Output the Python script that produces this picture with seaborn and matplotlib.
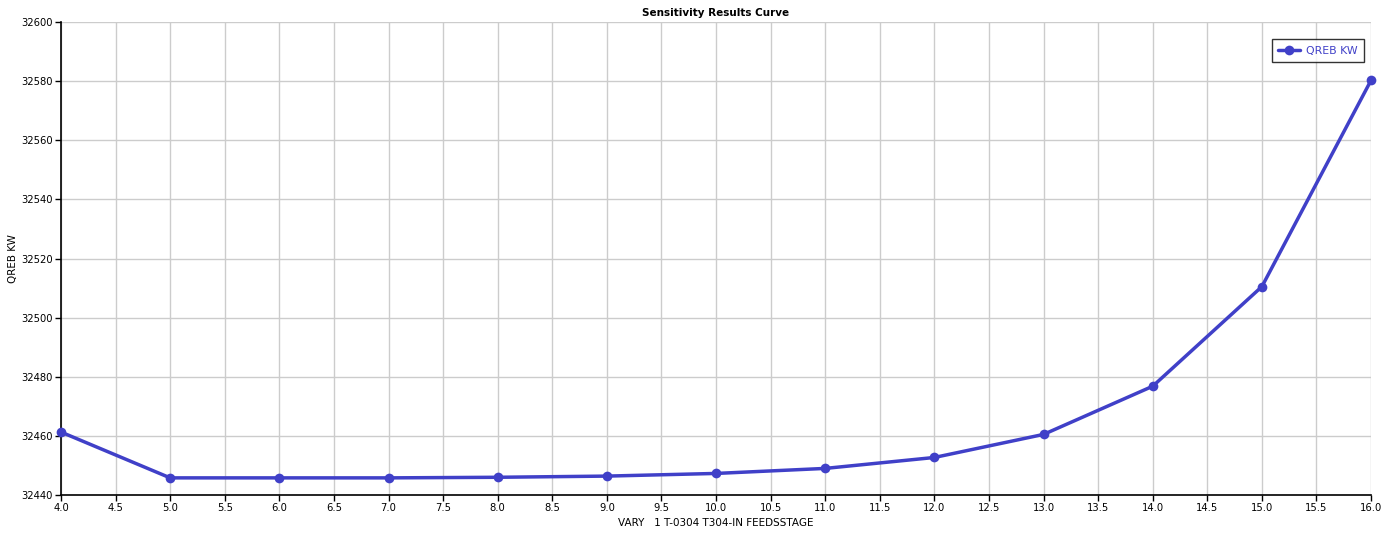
import numpy as np
import pandas as pd
import seaborn as sns
import matplotlib.pyplot as plt

feed_stage = [4, 5, 6, 7, 8, 9, 10, 11, 12, 13, 14, 15, 16]
qreb_kw = [32461.3, 32445.8, 32445.8, 32445.8, 32446.0, 32446.4, 32447.3,
           32449.0, 32452.7, 32460.5, 32476.8, 32510.5, 32580.3]
x_ticks = np.arange(4.0, 16.01, 0.5)
y_ticks = [32440, 32460, 32480, 32500, 32520, 32540, 32560, 32580, 32600]

LINE_COLOR = '#4040c8'

df = pd.DataFrame({'stage': feed_stage, 'QREB KW': qreb_kw})

sns.set_style('white')
plt.rcParams['font.family'] = ['DejaVu Sans']
plt.rcParams['text.color'] = 'black'
plt.rcParams['axes.labelcolor'] = 'black'
plt.rcParams['xtick.color'] = 'black'
plt.rcParams['ytick.color'] = 'black'

fig = plt.figure(figsize=(13.89, 5.39), dpi=100)
ax = fig.add_axes([0.0439, 0.0816, 0.9432, 0.8776])

sns.lineplot(data=df, x='stage', y='QREB KW', ax=ax, color=LINE_COLOR,
             linewidth=2.5, marker='o', markersize=7, markeredgewidth=0,
             label='QREB KW', zorder=3, clip_on=False)

ax.set_xlim(4, 16)
ax.set_ylim(32440, 32600)
ax.set_xticks(x_ticks)
ax.set_xticklabels([f'{t:.1f}' for t in x_ticks])
ax.set_yticks(y_ticks)
ax.tick_params(axis='both', labelsize=7.2, length=4, width=1,
               direction='out', color='black', pad=2,
               bottom=True, left=True)
ax.grid(True, color='#cccccc', linewidth=1)
for side in ['top', 'right']:
    ax.spines[side].set_visible(False)
for side in ['left', 'bottom']:
    ax.spines[side].set_color('black')
    ax.spines[side].set_linewidth(1.2)

ax.set_xlabel('VARY   1 T-0304 T304-IN FEEDSSTAGE', fontsize=7.5, labelpad=3)
ax.set_ylabel('QREB KW', fontsize=7.5, labelpad=2)
ax.set_title('Sensitivity Results Curve', fontsize=7.5, fontweight='bold',
             pad=4)

leg = ax.legend(loc='upper right', bbox_to_anchor=(0.999, 0.975),
                fontsize=7.8, frameon=True, fancybox=False, handlelength=2.0,
                borderpad=0.6, handletextpad=0.6)
leg.get_frame().set_edgecolor('black')
leg.get_frame().set_linewidth(1)
for t in leg.get_texts():
    t.set_color(LINE_COLOR)

fig.savefig('out.png', dpi=100)
